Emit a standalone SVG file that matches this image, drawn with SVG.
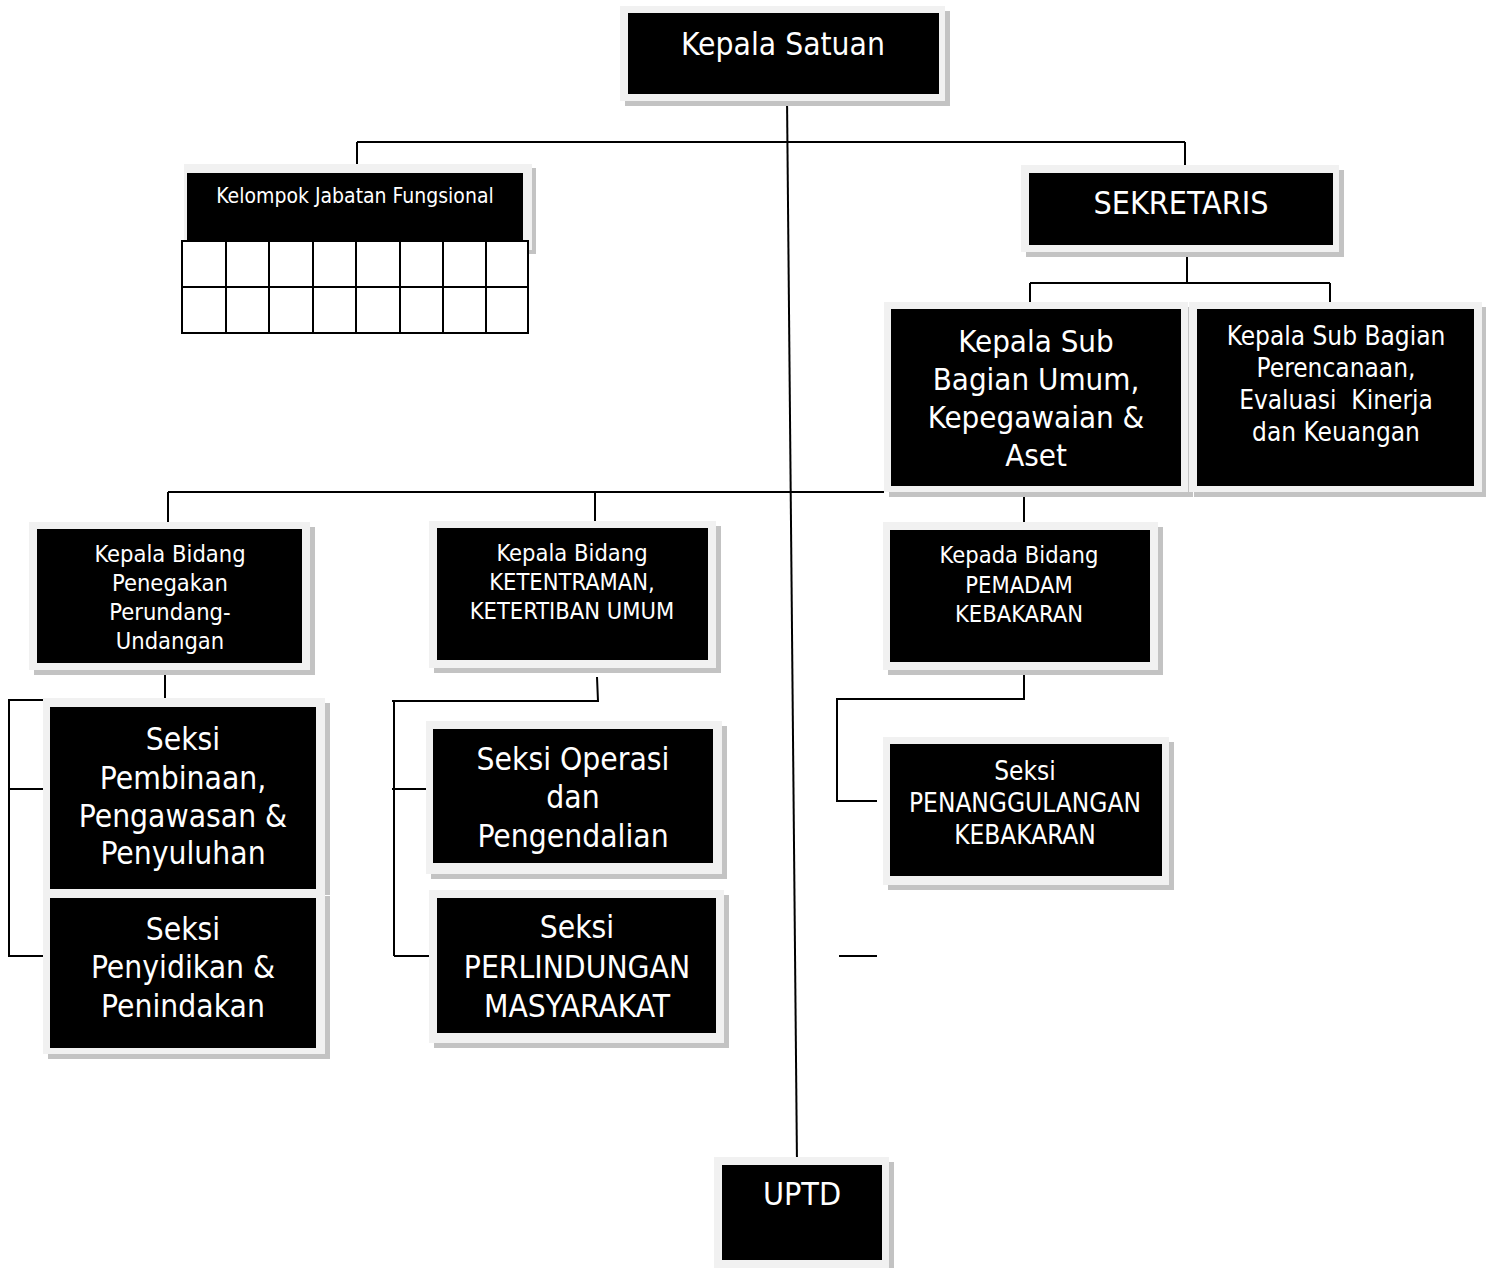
<svg xmlns="http://www.w3.org/2000/svg" width="1486" height="1268" viewBox="0 0 1486 1268">
<style>
.sh{fill:#c3c3c3}
.fr{fill:#f1f1f1}
.bk{fill:#000}
.t{fill:#fff;font-family:"DejaVu Sans Condensed","DejaVu Sans",sans-serif;text-anchor:middle}
.ln{fill:none;stroke:#000;stroke-width:2}
.tb{fill:#fff;stroke:#000;stroke-width:2}
</style>
<rect width="1486" height="1268" fill="#fff"/>
<g id="connectors" class="ln">
<path d="M787,97 L797,1165"/>
<path d="M357,142 H1185 M357,142 V173 M1185,142 V173"/>
<path d="M1187,252 V283 M1030,283 H1330 M1030,283 V309 M1330,283 V309"/>
<path d="M168,492 H884 M168,492 V529 M595,492 V528 M1024,486 V530"/>
<path d="M165,670 V700 H9 V957 M9,789 H47 M9,956 H47"/>
<path d="M597,677 L598,701 H392 M394,701 V956 M392,789 H430 M394,956 H433"/>
<path d="M1024,672 V699 H837 V801 H877"/>
<path d="M839,956 H877"/>
</g>
<g id="kepala-satuan">
<rect class="sh" x="625" y="11" width="325" height="95"/>
<rect class="fr" x="620" y="6" width="325" height="95"/>
<rect class="bk" x="628" y="13" width="311" height="81"/>
<text class="t" x="783" y="55" font-size="31.5">Kepala Satuan</text>
</g>
<g id="kelompok-jabatan-fungsional">
<rect class="sh" x="188" y="168" width="348" height="86"/>
<rect class="fr" x="184" y="164" width="348" height="86"/>
<rect class="bk" x="187" y="173" width="336" height="69"/>
<text class="t" x="355" y="203" font-size="21">Kelompok Jabatan Fungsional</text>
<rect class="tb" x="182" y="241" width="346" height="92"/>
<path class="ln" d="M182,287 H528 M226,241 V333 M269,241 V333 M313,241 V333 M356,241 V333 M400,241 V333 M443,241 V333 M486,241 V333"/>
</g>
<g id="sekretaris">
<rect class="sh" x="1026" y="170" width="318" height="87"/>
<rect class="fr" x="1021" y="165" width="318" height="87"/>
<rect class="bk" x="1029" y="173" width="304" height="72"/>
<text class="t" x="1181" y="214" font-size="32">SEKRETARIS</text>
</g>
<g id="kasubag-umum">
<rect class="sh" x="889" y="307" width="304" height="190"/>
<rect class="fr" x="884" y="302" width="304" height="190"/>
<rect class="bk" x="891" y="309" width="290" height="177"/>
<text class="t" font-size="31"><tspan x="1036" y="352">Kepala Sub</tspan><tspan x="1036" y="390">Bagian Umum,</tspan><tspan x="1036" y="428">Kepegawaian &amp;</tspan><tspan x="1036" y="466">Aset</tspan></text>
</g>
<g id="kasubag-perencanaan">
<rect class="sh" x="1194" y="307" width="293" height="190"/>
<rect class="fr" x="1189" y="302" width="293" height="190"/>
<rect class="bk" x="1197" y="309" width="277" height="177"/>
<text class="t" font-size="26"><tspan x="1336" y="345">Kepala Sub Bagian</tspan><tspan x="1336" y="377">Perencanaan,</tspan><tspan x="1336" y="409" xml:space="preserve">Evaluasi  Kinerja</tspan><tspan x="1336" y="441">dan Keuangan</tspan></text>
</g>
<g id="kabid-penegakan">
<rect class="sh" x="34" y="527" width="281" height="148"/>
<rect class="fr" x="29" y="522" width="281" height="148"/>
<rect class="bk" x="37" y="529" width="265" height="134"/>
<text class="t" font-size="23.5"><tspan x="170" y="562">Kepala Bidang</tspan><tspan x="170" y="591">Penegakan</tspan><tspan x="170" y="620">Perundang-</tspan><tspan x="170" y="649">Undangan</tspan></text>
</g>
<g id="kabid-ketentraman">
<rect class="sh" x="434" y="526" width="287" height="147"/>
<rect class="fr" x="429" y="521" width="287" height="147"/>
<rect class="bk" x="437" y="528" width="271" height="132"/>
<text class="t" font-size="23.5"><tspan x="572" y="561">Kepala Bidang</tspan><tspan x="572" y="590">KETENTRAMAN,</tspan><tspan x="572" y="619">KETERTIBAN UMUM</tspan></text>
</g>
<g id="kabid-pemadam">
<rect class="sh" x="888" y="527" width="275" height="148"/>
<rect class="fr" x="883" y="522" width="275" height="148"/>
<rect class="bk" x="890" y="530" width="260" height="132"/>
<text class="t" font-size="23.5"><tspan x="1019" y="563">Kepada Bidang</tspan><tspan x="1019" y="593">PEMADAM</tspan><tspan x="1019" y="622">KEBAKARAN</tspan></text>
</g>
<g id="seksi-pembinaan">
<rect class="sh" x="48" y="703" width="282" height="192"/>
<rect class="fr" x="43" y="698" width="282" height="197"/>
<rect class="bk" x="50" y="707" width="266" height="182"/>
<text class="t" font-size="31.5"><tspan x="183" y="750">Seksi</tspan><tspan x="183" y="789">Pembinaan,</tspan><tspan x="183" y="827">Pengawasan &amp;</tspan><tspan x="183" y="864">Penyuluhan</tspan></text>
</g>
<g id="seksi-penyidikan">
<rect class="sh" x="48" y="896" width="282" height="163"/>
<rect class="fr" x="43" y="891" width="282" height="163"/>
<rect class="bk" x="50" y="898" width="266" height="150"/>
<text class="t" font-size="31.5"><tspan x="183" y="940">Seksi</tspan><tspan x="183" y="978">Penyidikan &amp;</tspan><tspan x="183" y="1017">Penindakan</tspan></text>
</g>
<g id="seksi-operasi">
<rect class="sh" x="431" y="726" width="296" height="153"/>
<rect class="fr" x="426" y="721" width="296" height="153"/>
<rect class="bk" x="433" y="729" width="280" height="134"/>
<text class="t" font-size="31.5"><tspan x="573" y="770">Seksi Operasi</tspan><tspan x="573" y="808">dan</tspan><tspan x="573" y="847">Pengendalian</tspan></text>
</g>
<g id="seksi-perlindungan">
<rect class="sh" x="434" y="895" width="295" height="153"/>
<rect class="fr" x="429" y="890" width="295" height="153"/>
<rect class="bk" x="437" y="898" width="279" height="135"/>
<text class="t" font-size="31.5"><tspan x="577" y="938">Seksi</tspan><tspan x="577" y="978">PERLINDUNGAN</tspan><tspan x="577" y="1017">MASYARAKAT</tspan></text>
</g>
<g id="seksi-penanggulangan">
<rect class="sh" x="888" y="742" width="286" height="148"/>
<rect class="fr" x="883" y="737" width="286" height="148"/>
<rect class="bk" x="890" y="744" width="272" height="132"/>
<text class="t" font-size="26"><tspan x="1025" y="780">Seksi</tspan><tspan x="1025" y="812">PENANGGULANGAN</tspan><tspan x="1025" y="844">KEBAKARAN</tspan></text>
</g>
<g id="uptd">
<rect class="sh" x="719" y="1162" width="175" height="115"/>
<rect class="fr" x="714" y="1157" width="175" height="115"/>
<rect class="bk" x="722" y="1165" width="160" height="95"/>
<text class="t" x="802" y="1205" font-size="32">UPTD</text>
</g>
</svg>
